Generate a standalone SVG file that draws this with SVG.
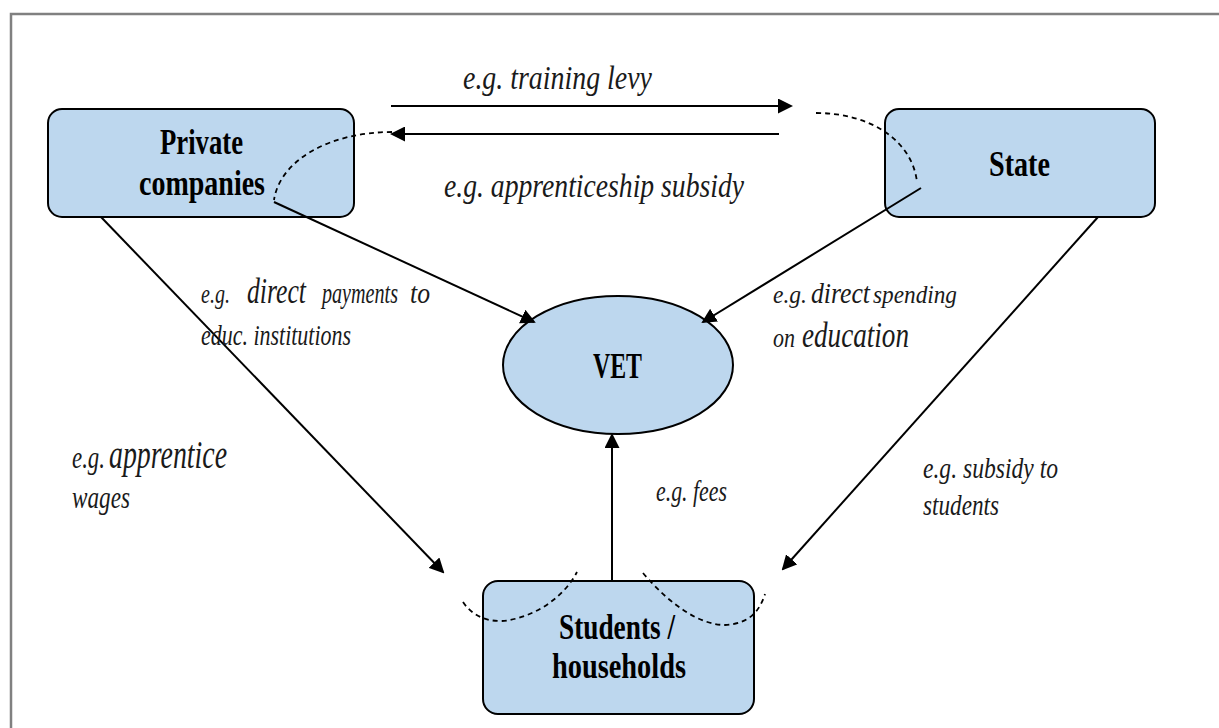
<svg xmlns="http://www.w3.org/2000/svg" width="1219" height="728" viewBox="0 0 1219 728">
<style>
.frame{stroke:#808080;stroke-width:2.5;fill:none}
.node{fill:#bdd7ee;stroke:#000;stroke-width:2}
.b{font-family:"Liberation Serif","Times New Roman",serif;font-weight:bold;font-size:36px;fill:#000}
.i{font-family:"Liberation Serif","Times New Roman",serif;font-style:italic;fill:#1a1a1a}
.c{stroke:#000;stroke-width:2;fill:none}
.arr{marker-end:url(#ah)}
.d{stroke:#000;stroke-width:1.8;fill:none;stroke-dasharray:5 4}
</style>
<defs>
<marker id="ah" markerUnits="userSpaceOnUse" markerWidth="15" markerHeight="15" refX="13" refY="7.5" orient="auto">
<path d="M0,0 L15,7.5 L0,15 z" fill="#000"/>
</marker>
</defs>
<rect width="1219" height="728" fill="#fff"/>
<path class="frame" d="M11,728 L11,14 L1219,14"/>

<g id="private">
<rect class="node" x="48" y="109" width="306" height="108" rx="14"/>
<text class="b" x="160" y="154" textLength="83" lengthAdjust="spacingAndGlyphs">Private</text>
<text class="b" x="139" y="195" textLength="126" lengthAdjust="spacingAndGlyphs">companies</text>
</g>
<g id="state">
<rect class="node" x="885" y="109" width="270" height="108" rx="14"/>
<text class="b" x="989" y="176" textLength="61" lengthAdjust="spacingAndGlyphs">State</text>
</g>
<g id="vet">
<ellipse class="node" cx="618" cy="365" rx="115" ry="69"/>
<text class="b" x="593" y="378" textLength="49" lengthAdjust="spacingAndGlyphs">VET</text>
</g>
<g id="students">
<rect class="node" x="483" y="581" width="271" height="133" rx="15"/>
<text class="b" x="559" y="639" textLength="116" lengthAdjust="spacingAndGlyphs">Students /</text>
<text class="b" x="552" y="678" textLength="134" lengthAdjust="spacingAndGlyphs">households</text>
</g>

<g id="connectors">
<line class="c arr" x1="391" y1="106" x2="791" y2="106"/>
<line class="c arr" x1="779" y1="134" x2="392" y2="134"/>
<path class="d" d="M392,132 C330,132 280,160 274,200"/>
<path class="d" d="M816,113 C870,113 912,140 917,182"/>
<line class="c arr" x1="274" y1="202" x2="534" y2="322"/>
<line class="c arr" x1="921" y1="188" x2="703" y2="322"/>
<line class="c arr" x1="101" y1="217" x2="443" y2="572"/>
<line class="c arr" x1="1098" y1="217" x2="783" y2="569"/>
<line class="c arr" x1="612" y1="581" x2="612" y2="435"/>
<path class="d" d="M463,602 C475,620 495,623 510,620 C540,614 565,595 577,572"/>
<path class="d" d="M643,573 C670,605 700,625 725,625 C750,624 760,610 765,594"/>
</g>

<g id="labels">
<text class="i" x="463" y="89" font-size="34" textLength="189" lengthAdjust="spacingAndGlyphs">e.g. training levy</text>
<text class="i" x="444" y="197" font-size="34" textLength="300" lengthAdjust="spacingAndGlyphs">e.g. apprenticeship subsidy</text>
<text class="i" y="303"><tspan x="201" font-size="27" textLength="29" lengthAdjust="spacingAndGlyphs">e.g.</tspan> <tspan x="247" font-size="36" textLength="59" lengthAdjust="spacingAndGlyphs">direct</tspan> <tspan x="322" font-size="30" textLength="76" lengthAdjust="spacingAndGlyphs">payments</tspan> <tspan x="410" font-size="29" textLength="20" lengthAdjust="spacingAndGlyphs">to</tspan></text>
<text class="i" x="201" y="345" font-size="29" textLength="150" lengthAdjust="spacingAndGlyphs">educ. institutions</text>
<text class="i" y="303"><tspan x="773" font-size="26" textLength="34" lengthAdjust="spacingAndGlyphs">e.g.</tspan> <tspan x="811" font-size="30" textLength="59" lengthAdjust="spacingAndGlyphs">direct</tspan> <tspan x="873" font-size="26" textLength="84" lengthAdjust="spacingAndGlyphs">spending</tspan></text>
<text class="i" y="347"><tspan x="773" font-size="28" textLength="22" lengthAdjust="spacingAndGlyphs">on</tspan> <tspan x="802" font-size="36" textLength="107" lengthAdjust="spacingAndGlyphs">education</tspan></text>
<text class="i" y="468"><tspan x="72" font-size="32" textLength="33" lengthAdjust="spacingAndGlyphs">e.g.</tspan> <tspan x="109" font-size="39" textLength="118" lengthAdjust="spacingAndGlyphs">apprentice</tspan></text>
<text class="i" x="72" y="508" font-size="31" textLength="58" lengthAdjust="spacingAndGlyphs">wages</text>
<text class="i" x="656" y="501" font-size="30" textLength="71" lengthAdjust="spacingAndGlyphs">e.g. fees</text>
<text class="i" x="923" y="478" font-size="30" textLength="135" lengthAdjust="spacingAndGlyphs">e.g. subsidy to</text>
<text class="i" x="923" y="515" font-size="30" textLength="76" lengthAdjust="spacingAndGlyphs">students</text>
</g>
</svg>
